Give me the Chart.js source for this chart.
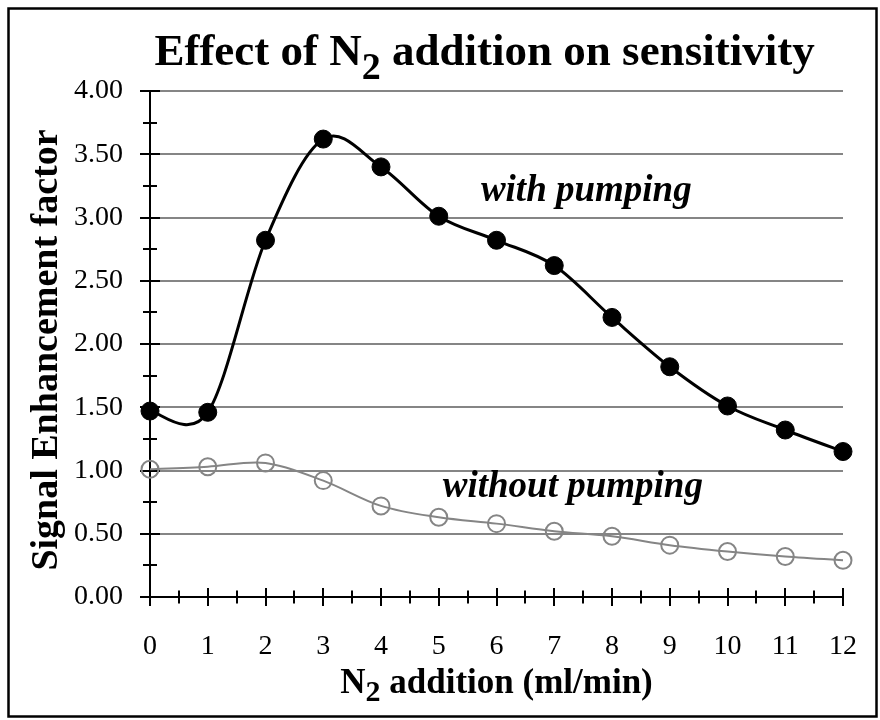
<!DOCTYPE html>
<html>
<head>
<meta charset="utf-8">
<script src="https://cdn.jsdelivr.net/npm/chart.js@4.4.1/dist/chart.umd.min.js"></script>
<style>
  html, body { margin: 0; padding: 0; background: #ffffff; }
  #wrap { width: 880px; height: 720px; }
</style>
</head>
<body>
<div id="wrap"><canvas id="chart" width="880" height="720"></canvas></div>
<script>
// N2 flow (ml/min) and the measured signal enhancement factors
const n2Flow = [0, 1, 2, 3, 4, 5, 6, 7, 8, 9, 10, 11, 12];
const withPumping = [1.47, 1.46, 2.82, 3.62, 3.40, 3.01, 2.82, 2.62, 2.21, 1.82, 1.51, 1.32, 1.15];
const withoutPumping = [1.01, 1.03, 1.06, 0.92, 0.72, 0.63, 0.58, 0.52, 0.48, 0.41, 0.36, 0.32, 0.29];

// axis ticks
const xTicks = [0, 1, 2, 3, 4, 5, 6, 7, 8, 9, 10, 11, 12];
const yTicks = [0, 0.5, 1, 1.5, 2, 2.5, 3, 3.5, 4];
const xMinorStep = 0.5;
const yMinorStep = 0.25;

// series labels written next to the curves (data coordinates of the text's left baseline)
const seriesLabels = [
  { text: 'with pumping', x: 5.73, y: 3.13 },
  { text: 'without pumping', x: 5.07, y: 0.79 }
];

const SERIF = "'Liberation Serif', 'Times New Roman', serif";
const GREY = '#858585';

// measures / draws a run of text pieces (used for the N2 subscripts)
function richWidth(ctx, parts) {
  let w = 0;
  for (const p of parts) { ctx.font = p.font; w += ctx.measureText(p.t).width; }
  return w;
}
function drawRich(ctx, parts, x, y) {
  let cx = x;
  for (const p of parts) {
    ctx.font = p.font;
    ctx.fillText(p.t, cx, y + (p.dy || 0));
    cx += ctx.measureText(p.t).width;
  }
}

// smooth curves through the points as a uniform Catmull-Rom spline
const smoothPlugin = {
  id: 'catmullRom',
  beforeDatasetDraw(chart, args) {
    const meta = args.meta;
    const line = meta.dataset;
    if (!line) return;
    line.updateControlPoints(chart.chartArea, meta.indexAxis);
    const pts = meta.data;
    const n = pts.length;
    for (let i = 0; i < n; i++) {
      const p = pts[i];
      const prev = pts[Math.max(i - 1, 0)];
      const next = pts[Math.min(i + 1, n - 1)];
      const dx = (next.x - prev.x) / 6;
      const dy = (next.y - prev.y) / 6;
      p.cp1x = p.x - dx; p.cp1y = p.y - dy;
      p.cp2x = p.x + dx; p.cp2y = p.y + dy;
    }
  }
};

const framePlugin = {
  id: 'frame',
  beforeDraw(chart) {
    const ctx = chart.ctx;
    ctx.save();
    ctx.fillStyle = '#ffffff';
    ctx.fillRect(0, 0, chart.width, chart.height);
    ctx.strokeStyle = '#000000';
    ctx.lineWidth = 2.5;
    ctx.strokeRect(8.5, 8.5, 868, 708);
    ctx.restore();
  }
};

const axesPlugin = {
  id: 'axesTicks',
  beforeDatasetsDraw(chart) {
    const ctx = chart.ctx;
    const xs = chart.scales.x, ys = chart.scales.y;
    const x0 = xs.getPixelForValue(xs.min), x1 = xs.getPixelForValue(xs.max);
    const y0 = ys.getPixelForValue(ys.min), y1 = ys.getPixelForValue(ys.max);
    ctx.save();
    ctx.strokeStyle = '#000000';
    ctx.lineWidth = 2;
    ctx.beginPath();
    ctx.moveTo(x0, y1); ctx.lineTo(x0, y0 + 1);
    ctx.moveTo(x0 - 1, y0); ctx.lineTo(x1 + 1, y0);
    // x ticks crossing the axis
    for (let v = xs.min; v <= xs.max + 1e-9; v += xMinorStep) {
      const major = Math.abs(v - Math.round(v)) < 1e-9;
      const px = Math.round(xs.getPixelForValue(v));
      const h = major ? 9 : 6.5;
      ctx.moveTo(px, y0 - h); ctx.lineTo(px, y0 + h);
    }
    // y ticks crossing the axis
    for (let v = ys.min; v <= ys.max + 1e-9; v += yMinorStep) {
      const major = Math.abs(v / 0.5 - Math.round(v / 0.5)) < 1e-9;
      const py = Math.round(ys.getPixelForValue(v));
      const w = major ? 10 : 7;
      ctx.moveTo(x0 - w, py); ctx.lineTo(x0 + w, py);
    }
    ctx.stroke();
    ctx.restore();
  },
  afterDraw(chart) {
    const ctx = chart.ctx;
    const xs = chart.scales.x, ys = chart.scales.y;
    const area = chart.chartArea;
    ctx.save();
    ctx.fillStyle = '#000000';
    ctx.textBaseline = 'alphabetic';
    ctx.textAlign = 'left';

    // chart title
    const tFont = 'bold 45px ' + SERIF;
    const tSub = 'bold 38px ' + SERIF;
    const title = [
      { t: 'Effect of N', font: tFont },
      { t: '2', font: tSub, dy: 14 },
      { t: ' addition on sensitivity', font: tFont }
    ];
    const tw = richWidth(ctx, title);
    drawRich(ctx, title, 484.5 - tw / 2, 65);

    // x axis title
    const xFont = 'bold 35px ' + SERIF;
    const xSub = 'bold 30px ' + SERIF;
    const xTitle = [
      { t: 'N', font: xFont },
      { t: '2', font: xSub, dy: 8 },
      { t: ' addition (ml/min)', font: xFont }
    ];
    const xw = richWidth(ctx, xTitle);
    drawRich(ctx, xTitle, (area.left + area.right) / 2 - xw / 2, 693);

    // y axis title
    ctx.save();
    ctx.translate(57, 350);
    ctx.rotate(-Math.PI / 2);
    ctx.font = 'bold 38px ' + SERIF;
    ctx.textAlign = 'center';
    ctx.fillText('Signal Enhancement factor', 0, 0);
    ctx.restore();

    // series labels
    ctx.font = 'italic bold 37px ' + SERIF;
    ctx.textAlign = 'left';
    for (const l of seriesLabels) {
      ctx.fillText(l.text, xs.getPixelForValue(l.x), ys.getPixelForValue(l.y));
    }
    ctx.restore();
  }
};

const toPoints = arr => arr.map((v, i) => ({ x: n2Flow[i], y: v }));

new Chart(document.getElementById('chart'), {
  type: 'line',
  data: {
    datasets: [
      {
        label: 'with pumping',
        data: toPoints(withPumping),
        borderColor: '#000000',
        borderWidth: 3,
        tension: 0.4,
        pointRadius: 9,
        pointBorderWidth: 1,
        pointBackgroundColor: '#000000',
        pointBorderColor: '#000000',
        clip: false
      },
      {
        label: 'without pumping',
        data: toPoints(withoutPumping),
        borderColor: GREY,
        borderWidth: 2,
        tension: 0.4,
        pointRadius: 8.5,
        pointBorderWidth: 2,
        pointBackgroundColor: 'rgba(0,0,0,0)',
        pointBorderColor: GREY,
        clip: false
      }
    ]
  },
  options: {
    responsive: false,
    animation: false,
    devicePixelRatio: 1,
    layout: { padding: { top: 91, right: 37, left: 0, bottom: 0 } },
    plugins: {
      legend: { display: false },
      title: { display: false },
      tooltip: { enabled: false }
    },
    scales: {
      x: {
        type: 'linear',
        min: 0,
        max: 12,
        afterBuildTicks: s => { s.ticks = xTicks.map(v => ({ value: v })); },
        afterFit: s => { s.height = 123; s.paddingLeft = 0; s.paddingRight = 0; },
        grid: { display: false, drawTicks: false },
        border: { display: false },
        ticks: {
          padding: 33,
          color: '#000000',
          font: { family: SERIF, size: 28 },
          maxRotation: 0,
          callback: v => String(v)
        }
      },
      y: {
        min: 0,
        max: 4,
        afterBuildTicks: s => { s.ticks = yTicks.map(v => ({ value: v })); },
        afterFit: s => { s.width = 150; s.paddingTop = 0; s.paddingBottom = 0; },
        grid: {
          drawTicks: false,
          lineWidth: 2,
          color: c => (c.tick && c.tick.value === 0) ? 'rgba(0,0,0,0)' : GREY
        },
        border: { display: false },
        ticks: {
          padding: 27,
          color: '#000000',
          font: { family: SERIF, size: 28 },
          callback: v => Number(v).toFixed(2)
        }
      }
    }
  },
  plugins: [framePlugin, axesPlugin, smoothPlugin]
});
</script>
</body>
</html>
